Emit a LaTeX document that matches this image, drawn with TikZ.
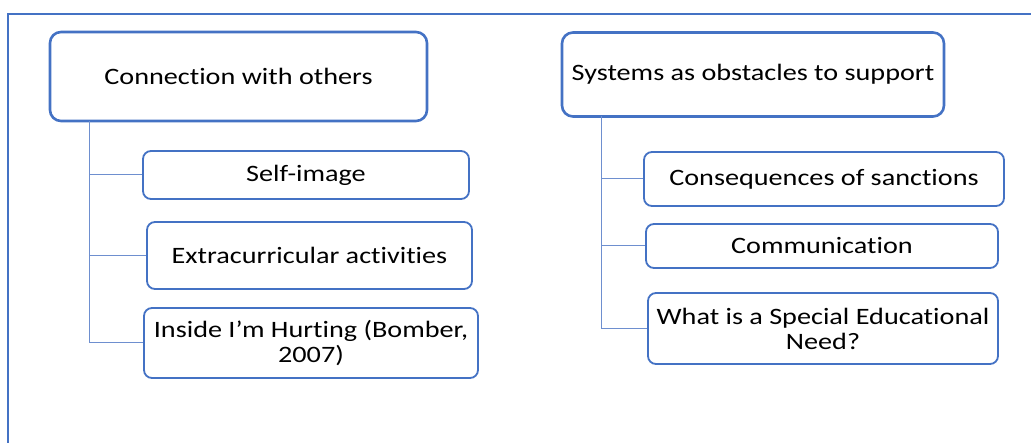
\documentclass[tikz,border=0pt]{standalone}
\usepackage{fontspec}
\setmainfont{Carlito}[FakeStretch=1.2, Ligatures=NoCommon]
\definecolor{accent}{HTML}{4472C4}
\definecolor{linkblue}{HTML}{6E8FCF}
\tikzset{
  frame/.style={draw=accent, line width=1.2pt},
  topbox/.style={draw=accent, line width=2.6pt, rounded corners=11pt, fill=white,
    inner sep=0pt, font=\fontsize{23.5}{25}\selectfont},
  subbox/.style={draw=accent, line width=1.8pt, rounded corners=8pt, fill=white,
    inner sep=0pt, align=center, font=\fontsize{23.5}{25}\selectfont},
  conn/.style={draw=linkblue, line width=1pt}
}
\begin{document}
\begin{tikzpicture}[x=1pt,y=-1pt]
  \useasboundingbox (0,0) rectangle (1031,443);
  % open frame: left edge and top edge
  \coordinate (fb) at (8,443);
  \coordinate (fc) at (8,14);
  \coordinate (fr) at (1031,14);
  \draw[frame] (fb) -- (fc) -- (fr);

  % left branch
  \node[topbox, minimum width=377pt, minimum height=89pt] (top1) at (238.5,76.5) {Connection with others};
  \node[subbox, minimum width=326pt, minimum height=48pt] (a1) at (306,175) {Self-image};
  \node[subbox, minimum width=325pt, minimum height=67pt] (a2) at (309.5,255.5) {Extracurricular activities};
  \node[subbox, minimum width=334pt, minimum height=70pt] (a3) at (311,343) {Inside I’m Hurting (Bomber,\\2007)};
  \coordinate (s1) at (89,121);
  \draw[conn] (s1) |- (a1.west);
  \draw[conn] (s1) |- (a2.west);
  \draw[conn] (s1) |- (a3.west);

  % right branch
  \node[topbox, minimum width=382pt, minimum height=84pt] (top2) at (753,74.5) {Systems as obstacles to support};
  \node[subbox, minimum width=360pt, minimum height=54pt] (b1) at (824,179) {Consequences of sanctions};
  \node[subbox, minimum width=352pt, minimum height=44pt] (b2) at (822,246) {Communication};
  \node[subbox, minimum width=350pt, minimum height=71pt] (b3) at (823,328.5) {What is a Special Educational\\Need?};
  \coordinate (s2) at (601,116.5);
  \draw[conn] (s2) |- (b1.west);
  \draw[conn] (s2) |- (b2.west);
  \draw[conn] (s2) |- (b3.west);
\end{tikzpicture}
\end{document}
